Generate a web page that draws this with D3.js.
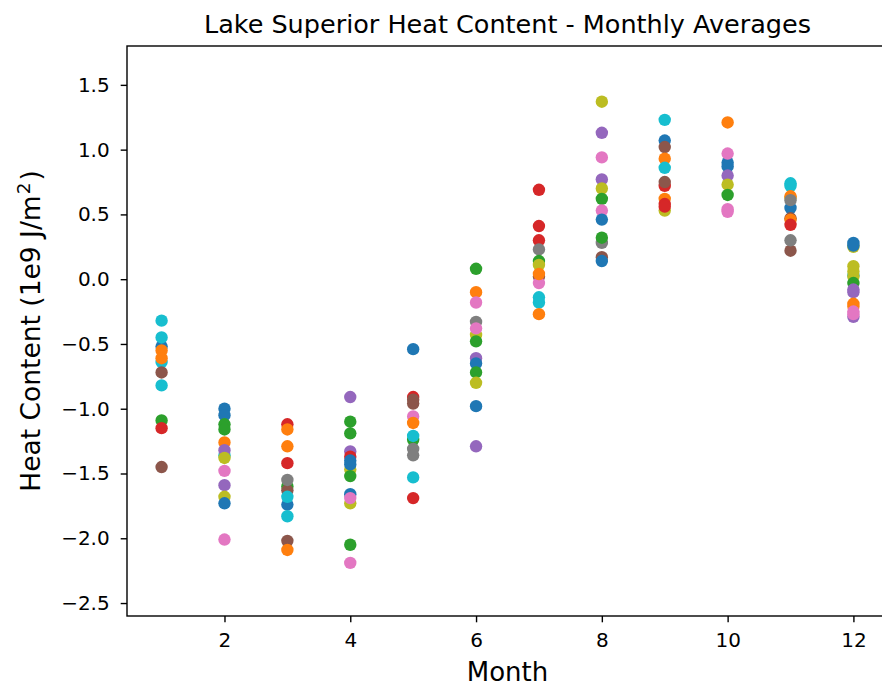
<!DOCTYPE html>
<html>
<head>
<meta charset="utf-8">
<script src="https://cdn.jsdelivr.net/npm/d3@7"></script>
<style>
  html, body { margin: 0; padding: 0; background: #fff; }
  svg { display: block; }
</style>
</head>
<body>
<div id="chart"></div>
<script>
const months = [1, 2, 3, 4, 5, 6, 7, 8, 9, 10, 11, 12];

// heat content per month (1e9 J/m2), one entry per plotted point
const monthValues = [
  [-0.52, -0.45, -0.32, -0.64, -0.55, -0.61, -0.72, -0.82, -1.09, -1.15, -1.45],
  [-1.00, -1.05, -1.12, -1.16, -1.26, -1.36, -1.32, -1.38, -1.48, -1.59, -1.68, -1.73, -2.01],
  [-1.12, -1.16, -1.29, -1.42, -1.60, -1.63, -1.55, -1.74, -1.68, -1.83, -2.02, -2.09],
  [-0.91, -1.10, -1.19, -1.33, -1.37, -1.47, -1.40, -1.43, -1.52, -1.73, -1.66, -1.69, -2.05, -2.19],
  [-0.54, -0.91, -0.93, -0.96, -1.06, -1.11, -1.24, -1.21, -1.31, -1.36, -1.53, -1.69],
  [0.08, -0.10, -0.18, -0.33, -0.43, -0.38, -0.48, -0.61, -0.65, -0.72, -0.80, -0.98, -1.29],
  [0.69, 0.41, 0.30, 0.23, 0.14, 0.11, 0.02, -0.03, 0.04, -0.14, -0.18, -0.27],
  [1.37, 1.13, 0.94, 0.77, 0.70, 0.62, 0.53, 0.46, 0.28, 0.32, 0.17, 0.14],
  [1.23, 1.07, 1.02, 0.93, 0.86, 0.72, 0.75, 0.53, 0.62, 0.58, 0.56],
  [1.21, 0.90, 0.97, 0.87, 0.80, 0.73, 0.65, 0.54, 0.52],
  [0.74, 0.72, 0.63, 0.64, 0.55, 0.61, 0.47, 0.46, 0.42, 0.22, 0.30],
  [0.25, 0.28, 0.26, 0.03, 0.10, 0.06, 0.02, -0.03, -0.08, -0.10, -0.19, -0.21, -0.25, -0.29, -0.27]
];

// colour-cycle index (C0..C9) of each point above
const monthColors = [
  [0, 9, 9, 9, 1, 1, 5, 9, 2, 3, 5],
  [0, 0, 2, 2, 1, 9, 4, 8, 6, 4, 8, 0, 6],
  [3, 1, 1, 3, 2, 5, 7, 0, 9, 9, 5, 1],
  [4, 2, 2, 4, 3, 8, 0, 0, 2, 8, 0, 6, 2, 6],
  [0, 3, 5, 5, 6, 1, 2, 9, 7, 7, 9, 3],
  [2, 1, 6, 7, 8, 6, 2, 4, 0, 2, 8, 0, 4],
  [3, 3, 3, 7, 2, 8, 5, 6, 1, 9, 9, 1],
  [8, 4, 6, 4, 8, 2, 6, 0, 7, 2, 5, 0],
  [9, 0, 5, 1, 9, 3, 5, 8, 1, 3, 3],
  [1, 0, 6, 0, 4, 8, 2, 6, 6],
  [9, 9, 8, 1, 0, 7, 5, 1, 3, 5, 7],
  [8, 0, 0, 9, 8, 8, 8, 2, 4, 4, 1, 1, 6, 4, 6]
];

const xTicks = [2, 4, 6, 8, 10, 12];
const yTicks = [-2.5, -2.0, -1.5, -1.0, -0.5, 0.0, 0.5, 1.0, 1.5];

const tab10 = ["#1f77b4", "#ff7f0e", "#2ca02c", "#d62728", "#9467bd",
               "#8c564b", "#e377c2", "#7f7f7f", "#bcbd22", "#17becf"];

const width = 882, height = 686;
const margin = { top: 46, right: -6, bottom: 70, left: 127 };
const W = width - margin.left - margin.right;
const H = height - margin.top - margin.bottom;
const font = "'DejaVu Sans', sans-serif";

const svg = d3.select("#chart").append("svg")
  .attr("width", width)
  .attr("height", height);

const g = svg.append("g").attr("transform", `translate(${margin.left},${margin.top})`);

const x = d3.scaleLinear().domain([0.45, 12.55]).range([0, W]);
const y = d3.scaleLinear().domain([-2.6, 1.8]).range([H, 0]);

const points = [];
months.forEach((m, i) => {
  monthValues[i].forEach((v, j) => points.push({ month: m, value: v, c: monthColors[i][j] }));
});

g.selectAll("circle.pt")
  .data(points)
  .enter().append("circle")
  .attr("class", "pt")
  .attr("cx", d => x(d.month))
  .attr("cy", d => y(d.value))
  .attr("r", 6.2)
  .attr("fill", d => tab10[d.c]);

const fmt = d => (d < 0 ? "\u2212" : "") + d3.format(".1f")(Math.abs(d));

// axes
const xAxis = g.append("g")
  .attr("transform", `translate(0,${H})`)
  .call(d3.axisBottom(x).tickValues(xTicks).tickFormat(d3.format("d")).tickSize(6.3).tickPadding(10));
const yAxis = g.append("g")
  .call(d3.axisLeft(y).tickValues(yTicks).tickFormat(fmt).tickSize(6.3).tickPadding(11));

[xAxis, yAxis].forEach(ax => {
  ax.select(".domain").remove();
  ax.selectAll("line").attr("stroke", "#000").attr("stroke-width", 1.4);
  ax.selectAll("text")
    .attr("fill", "#000")
    .attr("font-size", "20px")
    .attr("font-family", font);
});

// spines (right one falls outside the picture)
g.append("rect")
  .attr("x", 0).attr("y", 0)
  .attr("width", W).attr("height", H)
  .attr("fill", "none")
  .attr("stroke", "#000")
  .attr("stroke-width", 1.4);

// title and labels
svg.append("text")
  .attr("x", margin.left + W / 2)
  .attr("y", 33)
  .attr("text-anchor", "middle")
  .attr("font-family", font)
  .attr("font-size", "25.5px")
  .text("Lake Superior Heat Content - Monthly Averages");

svg.append("text")
  .attr("x", margin.left + W / 2)
  .attr("y", 681)
  .attr("text-anchor", "middle")
  .attr("font-family", font)
  .attr("font-size", "26px")
  .text("Month");

const yl = svg.append("text")
  .attr("transform", `translate(40,${margin.top + H / 2}) rotate(-90)`)
  .attr("text-anchor", "middle")
  .attr("font-family", font)
  .attr("font-size", "26.5px");
yl.append("tspan").text("Heat Content (1e9 J/m");
yl.append("tspan").attr("font-size", "18.5px").attr("dy", "-10").attr("dx", "1").text("2");
yl.append("tspan").attr("dy", "10").attr("dx", "2").text(")");
</script>
</body>
</html>
